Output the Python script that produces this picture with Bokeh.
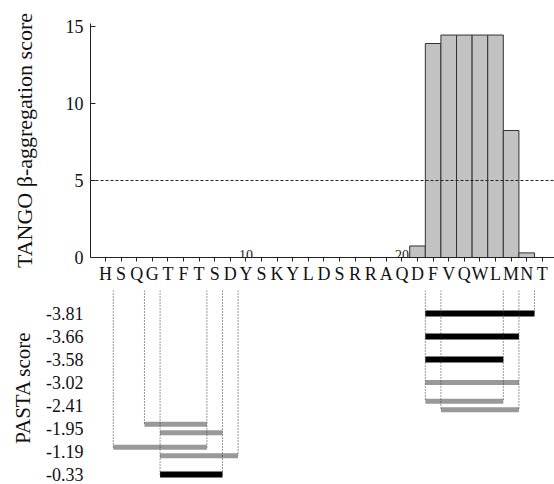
import math
from bokeh.plotting import figure
from bokeh.models import Range1d, FixedTicker, Span, ColumnDataSource
from bokeh.layouts import column
from bokeh.embed import file_html
from bokeh.resources import INLINE
from bokeh.core.properties import value

FONT = "Liberation Serif"

# ---------------- data ----------------
sequence = ["H", "S", "Q", "G", "T", "F", "T", "S", "D", "Y", "S", "K", "Y", "L", "D",
            "S", "R", "R", "A", "Q", "D", "F", "V", "Q", "W", "L", "M", "N", "T"]
residue = [1, 2, 3, 4, 5, 6, 7, 8, 9, 10, 11, 12, 13, 14, 15,
           16, 17, 18, 19, 20, 21, 22, 23, 24, 25, 26, 27, 28, 29]
tango = [0, 0, 0, 0, 0, 0, 0, 0, 0, 0, 0, 0, 0, 0, 0,
         0, 0, 0, 0, 0, 0.75, 13.9, 14.45, 14.45, 14.45, 14.45, 8.25, 0.3, 0]
tango_threshold = 5
tango_ticks = [0, 5, 10, 15]
residue_marks = [10, 20]

pasta_scores = ["-3.81", "-3.66", "-3.58", "-3.02", "-2.41", "-1.95", "-1.19", "-0.33"]
seg_score = ["-3.81", "-3.66", "-3.58", "-3.02", "-2.41", "-2.41", "-1.95", "-1.95", "-1.19", "-1.19", "-0.33"]
seg_start = [22, 22, 22, 22, 22, 23, 4, 5, 2, 5, 5]
seg_end = [28, 27, 26, 27, 26, 27, 7, 8, 7, 9, 8]
seg_kind = ["parallel", "parallel", "parallel", "anti", "anti", "anti", "anti", "anti", "anti", "anti", "parallel"]

kind_color = {"parallel": "#000000", "anti": "#999999"}
kind_width = {"parallel": 6, "anti": 5}

x_range = Range1d(0.04, 29.78)

# ---------------- top: TANGO ----------------
top = figure(width=554, height=290, x_range=x_range, y_range=Range1d(0, 15.2),
             output_backend="svg", toolbar_location=None,
             min_border_left=90, min_border_right=0, min_border_top=23, min_border_bottom=33)
top.outline_line_color = None
top.grid.visible = False

bx = [r for r, v in zip(residue, tango) if v > 0]
bv = [v for v in tango if v > 0]
top.vbar(x=bx, top=bv, bottom=0, width=1, fill_color="#c2c2c2",
         line_color="#333333", line_width=1)

top.add_layout(Span(location=tango_threshold, dimension="width", line_color="#222222",
                    line_dash="3 2", line_width=1))

top.text(x=residue_marks, y=[0.13] * len(residue_marks), text=[str(m) for m in residue_marks],
         text_font=value(FONT), text_font_size="14px", text_align="center",
         text_baseline="alphabetic", text_color="#222222")

xa = top.xaxis[0]
xa.ticker = FixedTicker(ticks=residue)
xa.major_label_overrides = {r: s for r, s in zip(residue, sequence)}
xa.major_label_text_font = FONT
xa.major_label_text_font_size = "18px"
xa.major_label_text_color = "#111111"
xa.major_tick_out = 4
xa.major_tick_in = 0
xa.minor_tick_line_color = None
xa.major_label_standoff = 2
xa.axis_line_color = "#222222"
xa.major_tick_line_color = "#222222"

ya = top.yaxis[0]
ya.ticker = FixedTicker(ticks=tango_ticks)
ya.major_label_text_font = FONT
ya.major_label_text_font_size = "18px"
ya.major_label_text_color = "#111111"
ya.major_tick_in = 5
ya.major_tick_out = 0
ya.minor_tick_line_color = None
ya.major_label_standoff = 7
ya.axis_line_color = "#222222"
ya.major_tick_line_color = "#222222"
ya.axis_label = "TANGO β-aggregation score"
ya.axis_label_text_font = FONT
ya.axis_label_text_font_size = "22px"
ya.axis_label_text_font_style = "normal"
ya.axis_label_text_color = "#111111"
ya.axis_label_standoff = 26

# ---------------- bottom: PASTA ----------------
n_rows = len(pasta_scores)
bottom = figure(width=554, height=194, x_range=x_range, y_range=Range1d(7.435, -1.0),
                output_backend="svg", toolbar_location=None, x_axis_location=None,
                min_border_left=90, min_border_right=0, min_border_top=0, min_border_bottom=0)
bottom.outline_line_color = None
bottom.grid.visible = False

# vertical position of each segment (rows with two segments get split)
row_of = [pasta_scores.index(s) for s in seg_score]
seg_y = []
for i, r in enumerate(row_of):
    same = [j for j, rr in enumerate(row_of) if rr == r]
    if len(same) == 1:
        seg_y.append(r)
    else:
        seg_y.append(r + (-0.18 if same.index(i) == 0 else 0.18))

src = ColumnDataSource(dict(
    x0=[s - 0.5 for s in seg_start], x1=[e + 0.5 for e in seg_end], y=seg_y,
    color=[kind_color[k] for k in seg_kind], lw=[kind_width[k] for k in seg_kind]))
bottom.segment(x0="x0", y0="y", x1="x1", y1="y", line_color="color", line_width="lw",
               line_cap="butt", source=src)

# dotted guides from the sequence down to the lowest segment ending at each boundary
bounds = {}
for s, e, y in zip(seg_start, seg_end, seg_y):
    for b in (s - 0.5, e + 0.5):
        bounds[b] = max(bounds.get(b, -10), y)
gx = sorted(bounds)
bottom.segment(x0=gx, x1=gx, y0=[-1.0] * len(gx), y1=[bounds[b] for b in gx],
               line_color="#333333", line_width=1, line_dash="1 2")

pa = bottom.yaxis[0]
pa.ticker = FixedTicker(ticks=list(range(n_rows)))
pa.major_label_overrides = {i: s for i, s in enumerate(pasta_scores)}
pa.major_label_text_font = FONT
pa.major_label_text_font_size = "18px"
pa.major_label_text_color = "#111111"
pa.axis_line_color = None
pa.major_tick_line_color = None
pa.minor_tick_line_color = None
pa.major_tick_out = 0
pa.major_tick_in = 0
pa.major_label_standoff = 7
pa.axis_label = "PASTA score"
pa.axis_label_text_font = FONT
pa.axis_label_text_font_size = "21px"
pa.axis_label_text_font_style = "normal"
pa.axis_label_text_color = "#111111"
pa.axis_label_standoff = 8

layout = column(top, bottom)
open("out.html", "w").write(file_html(layout, INLINE))
